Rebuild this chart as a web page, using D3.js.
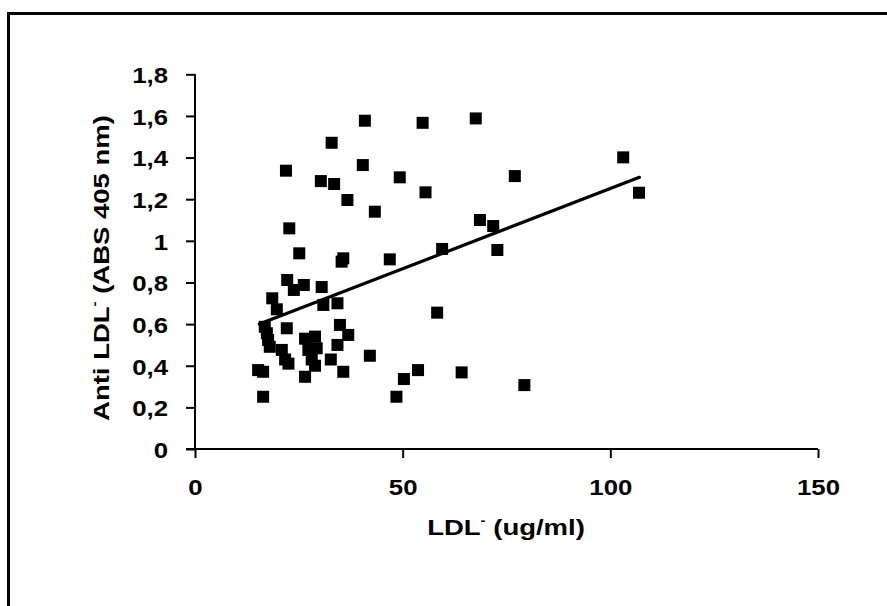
<!DOCTYPE html>
<html>
<head>
<meta charset="utf-8">
<script src="https://cdn.jsdelivr.net/npm/d3@7"></script>
<style>
  html, body { margin: 0; padding: 0; background: #fff; }
  svg { display: block; font-family: "Liberation Sans", Arial, sans-serif; font-weight: bold; }
</style>
</head>
<body>
<div id="chart"></div>
<script>
// values
const ldl = [
  40.9, 54.8, 67.6, 32.9, 21.9, 40.4, 30.3, 33.5, 49.3, 55.5, 36.7, 43.3, 22.7, 68.6, 71.8, 72.8,
  103.1, 77.0, 106.9, 25.1, 35.7, 35.3, 46.9, 59.5, 22.2, 23.8, 26.2, 30.5,
  30.9, 34.3, 58.3, 22.1, 34.9, 36.9, 26.5, 28.9, 34.3, 20.9, 21.7, 27.3, 29.3, 22.5, 28.1, 28.9,
  32.7, 42.1, 35.7, 26.5, 53.7, 50.3, 48.5, 64.2, 79.3,
  18.6, 19.7, 16.8, 17.3, 17.6, 18.0, 15.2, 16.4, 16.4
];
const anti = [
  1.577, 1.567, 1.588, 1.471, 1.337, 1.364, 1.287, 1.273, 1.305, 1.233, 1.196, 1.140, 1.060, 1.100, 1.071, 0.956,
  1.401, 1.311, 1.231, 0.940, 0.916, 0.900, 0.911, 0.961, 0.812, 0.764, 0.788, 0.778,
  0.692, 0.700, 0.655, 0.580, 0.596, 0.548, 0.530, 0.540, 0.500, 0.476, 0.430, 0.476, 0.484, 0.410, 0.430, 0.400,
  0.430, 0.448, 0.371, 0.347, 0.379, 0.336, 0.251, 0.368, 0.307,
  0.724, 0.671, 0.587, 0.556, 0.524, 0.491, 0.379, 0.371, 0.251
];
// linear trend line ends
const trendX = [15.5, 107];
const trendY = [0.60, 1.305];

const xTicks = [0, 50, 100, 150];
const yTicks = [0, 0.2, 0.4, 0.6, 0.8, 1, 1.2, 1.4, 1.6, 1.8];
const yTickLabels = ['0', '0,2', '0,4', '0,6', '0,8', '1', '1,2', '1,4', '1,6', '1,8'];

const W = 887, H = 606;
const stretch = 1.12; // scanned text looks wider than normal Arial

const svg = d3.select('#chart').append('svg')
  .attr('width', W).attr('height', H);

// outer frame (only top and left edges show in the scan)
svg.append('path')
  .attr('d', `M8.5,${H} L8.5,13.5 L${W},13.5`)
  .attr('fill', 'none').attr('stroke', '#000').attr('stroke-width', 3);

const x = d3.scaleLinear().domain([0, 150]).range([195, 818]);
const y = d3.scaleLinear().domain([0, 1.8]).range([449, 74.3]);

// y axis
const yAxis = svg.append('g')
  .attr('transform', `translate(${x(0)},0)`)
  .call(d3.axisLeft(y).tickValues(yTicks).tickSize(9).tickSizeOuter(0)
    .tickFormat((d, i) => yTickLabels[i]));
yAxis.select('.domain').attr('stroke-width', 2).attr('d', `M0,${y(1.8)}V${y(0)}`);
yAxis.selectAll('.tick line').attr('stroke-width', 2);
yAxis.selectAll('.tick text')
  .attr('font-size', 23).attr('font-family', '"Liberation Sans", Arial, sans-serif')
  .attr('font-weight', 'bold').attr('fill', '#000')
  .attr('x', -27 / stretch).attr('dy', '0.36em')
  .attr('transform', `scale(${stretch},1)`);

// x axis
const xAxis = svg.append('g')
  .attr('transform', `translate(0,${y(0)})`)
  .call(d3.axisBottom(x).tickValues(xTicks).tickSize(9).tickSizeOuter(0));
xAxis.select('.domain').attr('stroke-width', 2).attr('d', `M${x(0) - 9},0H${x(150)}`);
xAxis.selectAll('.tick line').attr('stroke-width', 2);
xAxis.selectAll('.tick text')
  .attr('font-size', 23).attr('font-family', '"Liberation Sans", Arial, sans-serif')
  .attr('font-weight', 'bold').attr('fill', '#000')
  .attr('y', 30).attr('dy', '0.71em')
  .attr('transform', `scale(${stretch},1)`);

// trend line
svg.append('line')
  .attr('x1', x(trendX[0])).attr('y1', y(trendY[0]))
  .attr('x2', x(trendX[1])).attr('y2', y(trendY[1]))
  .attr('stroke', '#000').attr('stroke-width', 3.2).attr('stroke-linecap', 'round');

// square markers
const s = 12;
svg.append('g').selectAll('rect')
  .data(ldl.map((v, i) => [v, anti[i]]))
  .join('rect')
  .attr('x', d => x(d[0]) - s / 2)
  .attr('y', d => y(d[1]) - s / 2)
  .attr('width', s).attr('height', s)
  .attr('fill', '#000');

// axis titles
const xt = svg.append('text')
  .attr('transform', `translate(506,535) scale(1.25,1)`)
  .attr('text-anchor', 'middle').attr('font-size', 22).attr('fill', '#000');
xt.append('tspan').text('LDL');
xt.append('tspan').attr('font-size', 12).attr('dy', -10).text('-');
xt.append('tspan').attr('dy', 10).text(' (ug/ml)');

const yt = svg.append('text')
  .attr('transform', `translate(109,268) rotate(-90) scale(1.25,1)`)
  .attr('text-anchor', 'middle').attr('font-size', 22).attr('fill', '#000');
yt.append('tspan').text('Anti LDL');
yt.append('tspan').attr('font-size', 12).attr('dy', -10).text('-');
yt.append('tspan').attr('dy', 10).text(' (ABS 405 nm)');
</script>
</body>
</html>
